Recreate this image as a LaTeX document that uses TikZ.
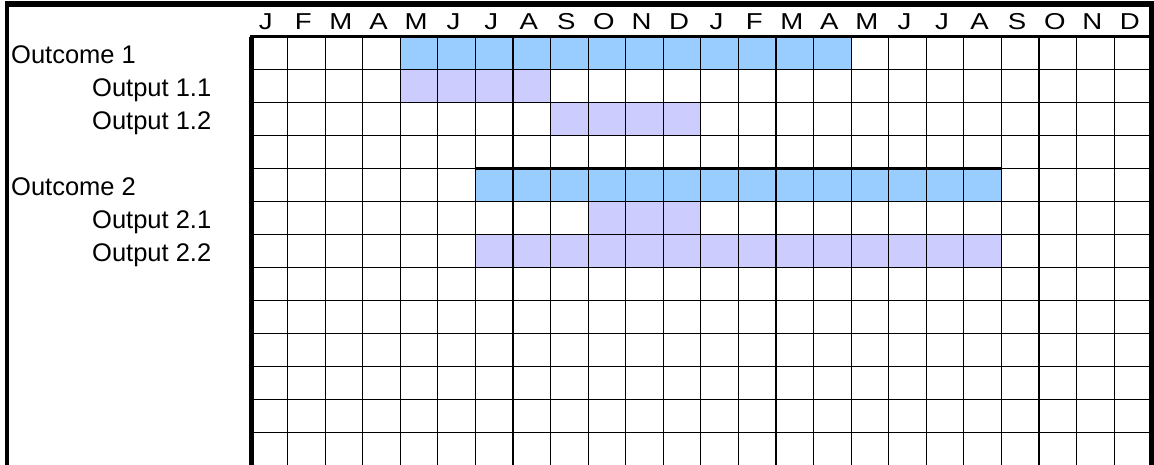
\documentclass[tikz,border=0pt]{standalone}
\usepackage{graphicx}
\usepackage{fontspec}
\setmainfont{Liberation Sans}
\definecolor{outcomeblue}{HTML}{99CCFF}
\definecolor{outputlav}{HTML}{CCCCFF}
\begin{document}
\begin{tikzpicture}[x=1pt,y=-1pt,
  gridline/.style={line width=1.2pt, black},
  heavy/.style={line width=3pt, black},
  hdr/.style={inner sep=0pt, anchor=base, font=\fontsize{23}{27}\selectfont},
  lbl/.style={inner sep=0pt, anchor=base west, font=\fontsize{25.5}{30}\selectfont}]
\useasboundingbox (0,0) rectangle (1154,465);
% outer frame
\draw[line width=5.5pt] (5,4) -- (1154,4);
\draw[line width=4pt] (7,1.5) -- (7,466);
\draw[line width=4.5pt] (1151.6,1.5) -- (1151.6,466);
% chart grid
\begin{scope}[shift={(250,36.7)}, x=37.57pt, y=-33pt]
  \fill[outcomeblue] (4,0) rectangle (16,1);
  \fill[outputlav] (4,1) rectangle (8,2);
  \fill[outputlav] (8,2) rectangle (12,3);
  \fill[outcomeblue] (6,4) rectangle (20,5);
  \fill[outputlav] (9,5) rectangle (12,6);
  \fill[outputlav] (6,6) rectangle (20,7);
  \foreach \i in {0,...,24} \draw[gridline] (\i,0) -- (\i,13.2);
  \foreach \j in {1,...,13} \draw[gridline] (0,\j) -- (24,\j);
  \draw[heavy] (6,4) -- (20,4);
  \draw[heavy] (0,0) -- (24,0);
  \draw[line width=4pt] (0.05,-0.04) -- (0.05,13.2);
  \foreach \m [count=\i from 0] in {J,F,M,A,M,J,J,A,S,O,N,D,J,F,M,A,M,J,J,A,S,O,N,D}
    \node[hdr] (h\i) at (\i+0.42,-0.23) {\scalebox{1.2}[1]{\m}};
\end{scope}
% row labels
\node[lbl] (oc1) at (11,63.7) {Outcome 1};
\node[lbl] (op11) at (92,96.7) {Output 1.1};
\node[lbl] (op12) at (92,129.7) {Output 1.2};
\node[lbl] (oc2) at (11,195.7) {Outcome 2};
\node[lbl] (op21) at (92,228.7) {Output 2.1};
\node[lbl] (op22) at (92,261.7) {Output 2.2};
\end{tikzpicture}
\end{document}
